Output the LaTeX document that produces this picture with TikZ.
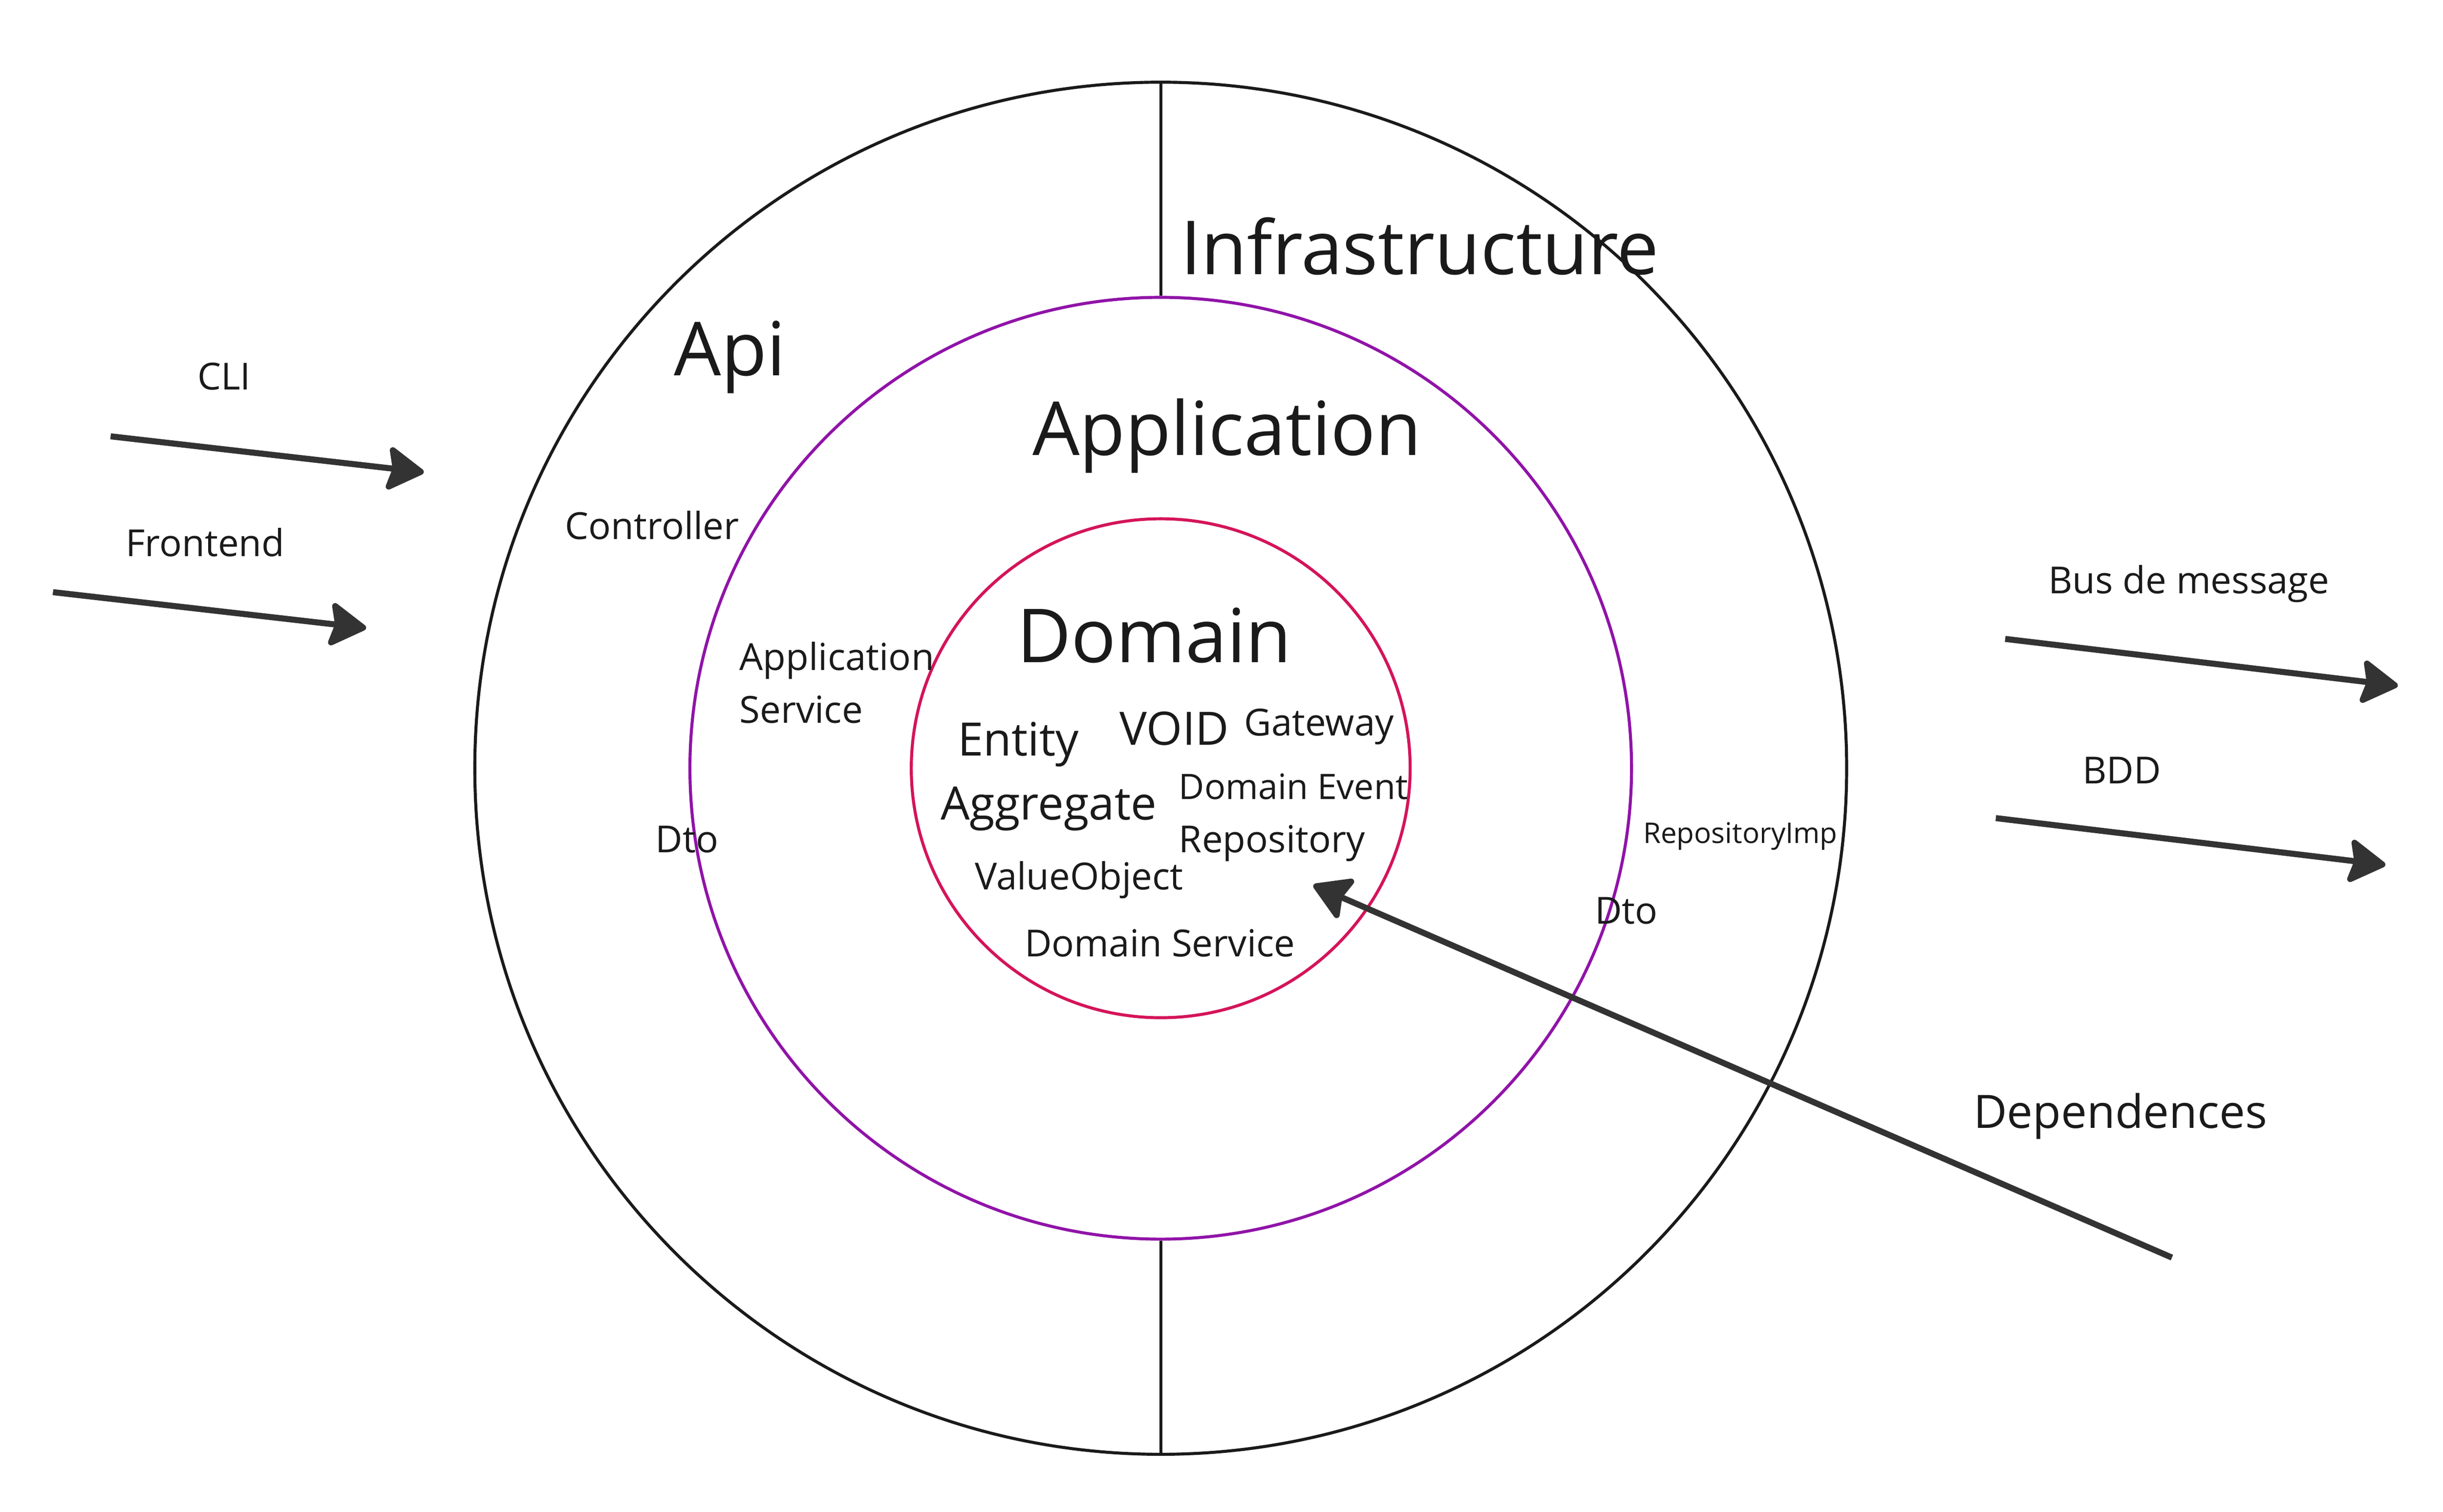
\documentclass[tikz,border=0pt]{standalone}
\usepackage{fontspec}
\setmainfont{Open Sans}
\usepackage{xcolor}
\usepackage{tikz}
\usetikzlibrary{arrows.meta}
\definecolor{ink}{HTML}{1A1A1A}
\definecolor{arrowgrey}{HTML}{333333}
\definecolor{apppurple}{HTML}{9013A8}
\definecolor{domcrimson}{HTML}{D4145A}
\tikzstyle{layer} = [circle, draw=ink, line width=.55pt, inner sep=0pt]
\tikzstyle{arrow} = [line width=1.1pt, draw=arrowgrey, -{Stealth[length=2.6mm, width=3.1mm, inset=.4mm, round]}]
\tikzstyle{big} = [inner sep=0pt, anchor=base west, text=ink, font=\fontsize{13.6}{16}\selectfont]
\tikzstyle{mid} = [inner sep=0pt, anchor=base west, text=ink, font=\fontsize{8.4}{10}\selectfont]
\tikzstyle{small} = [inner sep=0pt, anchor=base west, text=ink, font=\fontsize{6.8}{8}\selectfont]
\tikzstyle{tiny} = [inner sep=0pt, anchor=base west, text=ink, font=\fontsize{5.2}{6}\selectfont]

\begin{document}
\begin{tikzpicture}[x=0.01cm, y=-0.01cm]
                 \useasboundingbox (0,0) rectangle (1568,970.1);
                 % layers
                 \node (outer) [layer, minimum size=8.8cm] at (745,493) {};
                 \node (app) [layer, draw=apppurple, minimum size=6.04cm] at (745,493) {};
                 \node (dom) [layer, draw=domcrimson, minimum size=3.2cm] at (745,493) {};
                 \draw [ink, line width=.55pt] (outer.north) -- (app.north);
                 \draw [ink, line width=.55pt] (app.south) -- (outer.south);
                 % layer titles
                 \node (infra) [big] at (757,176) {Infrastructure};
                 \node (api) [big] at (432,241) {Api};
                 \node (application) [big] at (662,292) {Application};
                 \node (domain) [big] at (652,425) {Domain};
                 % api layer
                 \node (controller) [small] at (362,346) {Controller};
                 \node (dtoleft) [small] at (420,547) {Dto};
                 % application layer
                 \node (appservice) [small] at (474,430) {Application};
                 \node (appservice2) [small] at (474,464) {Service};
                 % domain layer
                 \node (entity) [mid] at (614,485) {Entity};
                 \node (void) [mid] at (718,478) {VOID};
                 \node (gateway) [small] at (798,472) {Gateway};
                 \node (domevent) [small, font=\fontsize{6.4}{8}\selectfont] at (756,513) {Domain Event};
                 \node (aggregate) [mid] at (603,526) {Aggregate};
                 \node (repository) [small] at (756,547) {Repository};
                 \node (valueobject) [small] at (625,571) {ValueObject};
                 \node (domservice) [small] at (657,614) {Domain Service};
                 % infrastructure layer
                 \node (repoimp) [tiny] at (1054,541) {RepositoryImp};
                 \node (dtoright) [small] at (1023,593) {Dto};
                 % outside
                 \node (cli) [small] at (126,250) {CLI};
                 \node (frontend) [small] at (80,357) {Frontend};
                 \node (bus) [small] at (1314,381) {Bus de message};
                 \node (bdd) [small] at (1336,503) {BDD};
                 \node (dep) [mid] at (1266,724) {Dependences};
                 \coordinate (clia) at (71,280);
                 \coordinate (clib) at (272,303);
                 \coordinate (fronta) at (34,380);
                 \coordinate (frontb) at (235,403);
                 \coordinate (busa) at (1287,410);
                 \coordinate (busb) at (1539,440);
                 \coordinate (bdda) at (1281,525);
                 \coordinate (bddb) at (1531,555);
                 \coordinate (depa) at (1394,807);
                 \coordinate (depb) at (843,568);
                 \draw [arrow] (clia) -- (clib);
                 \draw [arrow] (fronta) -- (frontb);
                 \draw [arrow] (busa) -- (busb);
                 \draw [arrow] (bdda) -- (bddb);
                 \draw [arrow] (depa) -- (depb);
             \end{tikzpicture}
\end{document}
